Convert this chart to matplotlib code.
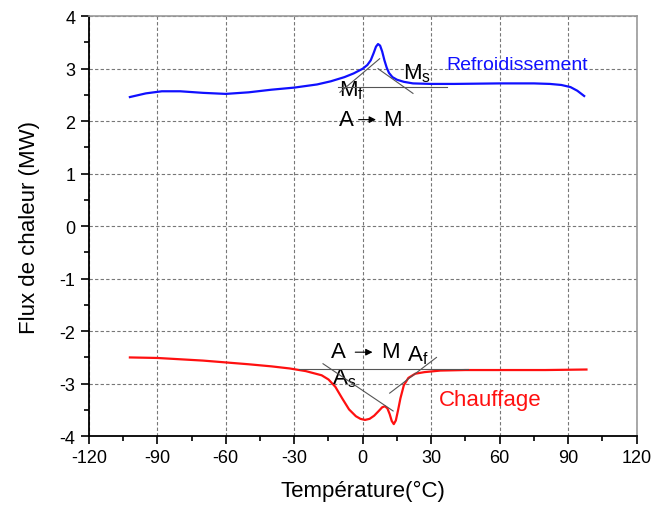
import matplotlib.pyplot as plt

plt.rcParams['font.family'] = ['Liberation Sans', 'DejaVu Sans']
plt.rcParams['mathtext.fontset'] = 'custom'
plt.rcParams['mathtext.rm'] = 'Liberation Sans'
plt.rcParams['mathtext.it'] = 'Liberation Sans'
plt.rcParams['axes.unicode_minus'] = False

# Refroidissement (cooling) curve
temp_cool = [-102, -95, -88, -80, -70, -60, -50, -40, -30, -20, -14, -8, -4, 0, 2, 3.5, 4.8, 5.8,
             6.7, 7.6, 8.5, 9.5, 10.5, 11.5, 13, 15, 18, 22, 30, 40, 60, 75, 82, 87, 91, 94, 97]
flux_cool = [2.46, 2.53, 2.57, 2.57, 2.54, 2.52, 2.55, 2.60, 2.64, 2.70, 2.76, 2.84, 2.91, 3.00,
             3.07, 3.16, 3.30, 3.42, 3.47, 3.44, 3.33, 3.16, 3.02, 2.92, 2.84, 2.79, 2.75, 2.72,
             2.71, 2.71, 2.72, 2.72, 2.71, 2.69, 2.65, 2.58, 2.48]

# Chauffage (heating) curve
temp_heat = [-102, -90, -70, -50, -40, -32, -25, -18, -15, -12, -9, -6, -3, -1, 1, 3, 5, 7,
             8.5, 9.7, 10.8, 11.8, 12.7, 13.6, 14.5, 15.5, 16.5, 18, 20, 23, 27, 34, 45, 60,
             80, 98]
flux_heat = [-2.50, -2.51, -2.56, -2.63, -2.67, -2.71, -2.76, -2.84, -2.92, -3.06, -3.28,
             -3.49, -3.62, -3.67, -3.69, -3.67, -3.61, -3.52, -3.45, -3.43, -3.47, -3.58,
             -3.71, -3.77, -3.70, -3.50, -3.28, -3.03, -2.89, -2.81, -2.78, -2.75, -2.74,
             -2.74, -2.74, -2.73]

# construction lines (tangents / baselines)
cool_base_x, cool_base_y = [-11, 37], [2.66, 2.66]
mf_tan_x, mf_tan_y = [-10, 7.4], [2.55, 3.19]
ms_tan_x, ms_tan_y = [6.7, 22], [3.0, 2.53]
heat_base_x, heat_base_y = [-28, 46], [-2.72, -2.72]
as_tan_x, as_tan_y = [-17.4, 13.3], [-2.62, -3.52]
af_tan_x, af_tan_y = [11.8, 32.3], [-3.18, -2.50]

xticks = [-120, -90, -60, -30, 0, 30, 60, 90, 120]
yticks = [-4, -3, -2, -1, 0, 1, 2, 3, 4]

fig = plt.figure(figsize=(6.53, 5.06), dpi=100)
ax = fig.add_axes([0.136, 0.136, 0.839, 0.830])

ax.plot(temp_cool, flux_cool, color='#1010ff', lw=1.6, zorder=3)
ax.plot(temp_heat, flux_heat, color='#ff1010', lw=1.6, zorder=3)

for xs, ys in [(cool_base_x, cool_base_y), (mf_tan_x, mf_tan_y), (ms_tan_x, ms_tan_y),
               (heat_base_x, heat_base_y), (as_tan_x, as_tan_y), (af_tan_x, af_tan_y)]:
    ax.plot(xs, ys, color='#555555', lw=0.8, zorder=4)

fs = 16
ax.text(17.5, 2.93, r'M$_\mathregular{s}$', fontsize=fs, ha='left', va='center')
ax.text(-10.5, 2.6, r'M$_\mathregular{f}$', fontsize=fs, ha='left', va='center')
ax.text(-10.5, 2.03, 'A', fontsize=fs, ha='left', va='center')
ax.text(17, 2.03, 'M', fontsize=fs, ha='right', va='center')
ax.annotate('', xy=(7, 2.03), xytext=(-3, 2.03),
            arrowprops=dict(arrowstyle='-|>', color='black', lw=0.8, mutation_scale=10))

ax.text(-14, -2.38, 'A', fontsize=fs, ha='left', va='center')
ax.text(16, -2.38, 'M', fontsize=fs, ha='right', va='center')
ax.annotate('', xy=(5.5, -2.4), xytext=(-4.5, -2.4),
            arrowprops=dict(arrowstyle='-|>', color='black', lw=0.8, mutation_scale=10))
ax.text(-13.5, -2.88, r'A$_\mathregular{s}$', fontsize=fs, ha='left', va='center')
ax.text(19.5, -2.45, r'A$_\mathregular{f}$', fontsize=fs, ha='left', va='center')

ax.text(36.5, 3.08, 'Refroidissement', color='#1010ff', fontsize=14, ha='left', va='center')
ax.text(33.5, -3.3, 'Chauffage', color='#ff1010', fontsize=16, ha='left', va='center')

ax.set_xlim(-120, 120)
ax.set_ylim(-4, 4)
ax.set_xticks(xticks)
ax.set_yticks(yticks)
ax.set_xticks(range(-105, 120, 30), minor=True)
ax.set_yticks([-3.5, -2.5, -1.5, -0.5, 0.5, 1.5, 2.5, 3.5], minor=True)
ax.tick_params(which='major', direction='out', length=6, width=1.2, labelsize=13)
ax.tick_params(which='minor', direction='out', length=3.5, width=1.2)
ax.grid(True, which='major', linestyle=(0, (3, 2)), color='#777777', lw=0.8)

for s in ['left', 'bottom']:
    ax.spines[s].set_linewidth(1.3)
for s in ['top', 'right']:
    ax.spines[s].set_color('#999999')
    ax.spines[s].set_linewidth(1.2)

ax.set_xlabel('Température(°C)', fontsize=16, labelpad=10)
ax.set_ylabel('Flux de chaleur (MW)', fontsize=16, labelpad=14)

fig.savefig('out.png', dpi=100)
